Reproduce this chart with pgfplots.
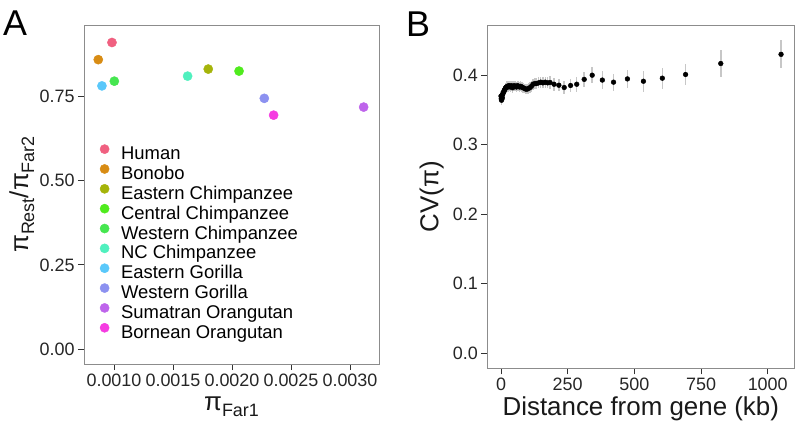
\documentclass[border=0pt]{standalone}
\usepackage{fontspec}
\setmainfont{Liberation Sans}
\usepackage{pgfplots}
\pgfplotsset{compat=1.18}
\usepackage{pgfplotstable}

\definecolor{cHuman}{HTML}{F06080}
\definecolor{cBonobo}{HTML}{D88C14}
\definecolor{cEChimp}{HTML}{A5B40A}
\definecolor{cCChimp}{HTML}{50EB1E}
\definecolor{cWChimp}{HTML}{46E650}
\definecolor{cNCChimp}{HTML}{50F0BE}
\definecolor{cEGor}{HTML}{5AC8FA}
\definecolor{cWGor}{HTML}{8C91F0}
\definecolor{cSOrang}{HTML}{BE64EB}
\definecolor{cBOrang}{HTML}{F53CE1}

\newcommand\sub[1]{\raisebox{-6bp}{\fontsize{18}{18}\selectfont #1}}

\pgfplotstableread{
x y e
0 0.370 0.007
1 0.366 0.007
2 0.364 0.007
3 0.368 0.007
4 0.371 0.007
5 0.367 0.007
6 0.372 0.007
8 0.374 0.007
10 0.376 0.007
12 0.378 0.007
14 0.379 0.007
16 0.381 0.007
18 0.382 0.007
20 0.383 0.007
23 0.384 0.007
26 0.383 0.007
29 0.385 0.007
32 0.384 0.007
35 0.383 0.007
38 0.385 0.007
41 0.384 0.007
44 0.382 0.007
47 0.384 0.007
50 0.385 0.007
54 0.384 0.007
58 0.383 0.007
62 0.385 0.007
66 0.384 0.007
70 0.383 0.007
74 0.384 0.007
78 0.383 0.007
83 0.382 0.007
88 0.381 0.007
93 0.380 0.007
98 0.380 0.007
103 0.381 0.008
108 0.382 0.008
114 0.384 0.008
120 0.387 0.008
127 0.388 0.008
134 0.388 0.008
141 0.389 0.008
149 0.390 0.008
157 0.389 0.008
166 0.390 0.008
175 0.389 0.008
184 0.3895 0.009
199 0.387 0.009
217 0.3856 0.009
237 0.3823 0.010
261 0.3852 0.010
284 0.387 0.0105
312 0.394 0.011
342 0.400 0.0115
380 0.393 0.013
422 0.390 0.012
474 0.3947 0.0125
534 0.3913 0.015
605 0.3957 0.015
692 0.401 0.0156
824 0.4168 0.019
1050 0.430 0.020
}\cvdata

\pgfplotsset{
  myaxis/.style={
    scale only axis,
    axis line style={draw=black!45, line width=0.9bp},
    tick align=outside,
    major tick length=6bp,
    tick style={black!80, line width=0.9bp},
    xtick pos=bottom, ytick pos=left,
    scaled x ticks=false, scaled y ticks=false,
    ticklabel style={font=\fontsize{18}{18}\selectfont, text=black!85},
    label style={font=\fontsize{26}{26}\selectfont, text=black!90},
    minor tick num=0,
  }
}

\begin{document}
\begin{tikzpicture}
\useasboundingbox (0,0) rectangle (796bp,422bp);

\node[anchor=base west, inner sep=0pt, font=\fontsize{36}{36}\selectfont] at (3bp,386bp) {A};
\node[anchor=base west, inner sep=0pt, font=\fontsize{36}{36}\selectfont] at (406bp,385bp) {B};

\begin{axis}[myaxis,
  at={(84bp,58bp)}, anchor=south west,
  width=295bp, height=339bp,
  xmin=0.000746, xmax=0.003246,
  ymin=-0.0446, ymax=0.963,
  xtick={0.001,0.0015,0.002,0.0025,0.003},
  xticklabels={0.0010,0.0015,0.0020,0.0025,0.0030},
  ytick={0,0.25,0.5,0.75},
  yticklabels={0.00,0.25,0.50,0.75},
  xlabel={π\sub{Far1}},
  ylabel={π\sub{Rest}/π\sub{Far2}},
  xlabel style={at={(axis description cs:0.5,-0.1357)}, anchor=base},
  ylabel style={at={(axis description cs:-0.1898,0.5)}, anchor=base, rotate=0},
  legend style={draw=none, fill=none, at={(axis description cs:0.0536,0.648)}, anchor=north west,
    inner sep=0pt, row sep=0pt, column sep=11.9bp,
    font=\fontsize{18.5}{18.5}\selectfont,
    nodes={inner sep=0pt, text height=12.8bp, text depth=4.7bp}},
  legend cell align=left,
  legend image code/.code={\draw[#1] plot coordinates {(0bp,6.5bp)};},
  every axis plot/.append style={only marks, mark=*, mark size=4.6bp},
]
\addplot[cHuman, mark options={fill=cHuman, draw=cHuman}] coordinates {(0.000983,0.911)};
\addplot[cBonobo, mark options={fill=cBonobo, draw=cBonobo}] coordinates {(0.000867,0.860)};
\addplot[cEChimp, mark options={fill=cEChimp, draw=cEChimp}] coordinates {(0.001799,0.832)};
\addplot[cCChimp, mark options={fill=cCChimp, draw=cCChimp}] coordinates {(0.002060,0.826)};
\addplot[cWChimp, mark options={fill=cWChimp, draw=cWChimp}] coordinates {(0.001003,0.796)};
\addplot[cNCChimp, mark options={fill=cNCChimp, draw=cNCChimp}] coordinates {(0.001624,0.811)};
\addplot[cEGor, mark options={fill=cEGor, draw=cEGor}] coordinates {(0.000898,0.782)};
\addplot[cWGor, mark options={fill=cWGor, draw=cWGor}] coordinates {(0.002274,0.745)};
\addplot[cSOrang, mark options={fill=cSOrang, draw=cSOrang}] coordinates {(0.003116,0.719)};
\addplot[cBOrang, mark options={fill=cBOrang, draw=cBOrang}] coordinates {(0.002353,0.695)};
\legend{Human,Bonobo,Eastern Chimpanzee,Central Chimpanzee,Western Chimpanzee,NC Chimpanzee,Eastern Gorilla,Western Gorilla,Sumatran Orangutan,Bornean Orangutan}
\end{axis}

\begin{axis}[myaxis,
  at={(487.3bp,53.7bp)}, anchor=south west,
  width=307bp, height=343bp,
  xmin=-51.3, xmax=1099.7,
  ymin=-0.0216, ymax=0.4718,
  xtick={0,250,500,750,1000},
  xticklabels={0,250,500,750,1000},
  ytick={0,0.1,0.2,0.3,0.4},
  yticklabels={0.0,0.1,0.2,0.3,0.4},
  xlabel={Distance from gene (kb)},
  ylabel={CV(π)},
  xlabel style={at={(axis description cs:0.5,-0.1362)}, anchor=base},
  ylabel style={at={(axis description cs:-0.1596,0.5)}, anchor=base, rotate=0},
]
\addplot[only marks, mark=*, mark size=2.4bp, black, mark options={fill=black, draw=black},
  error bars/.cd, y dir=both, y explicit,
  error bar style={black!22, line width=1.5bp}, error mark=none]
  table[x=x, y=y, y error=e] {\cvdata};
\end{axis}
\end{tikzpicture}
\end{document}
